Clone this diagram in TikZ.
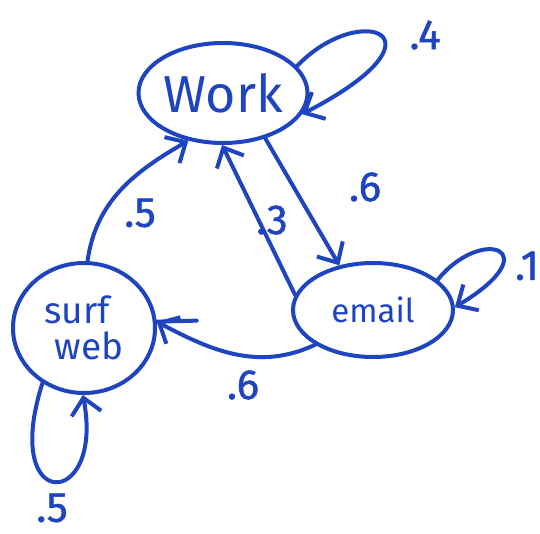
\documentclass[tikz,border=0pt]{standalone}
\usepackage{fontspec}
\setmainfont{Fira Sans}
\usetikzlibrary{shapes.geometric,arrows.meta}
\definecolor{ink}{HTML}{1E44C0}
\tikzset{
  state/.style={ellipse, draw=ink, line width=4pt, inner sep=0pt, text=ink},
  edge/.style={draw=ink, line width=4pt, line cap=round, -{Straight Barb[length=16pt,width=30pt,line width=4pt]}},
  plain/.style={draw=ink, line width=4pt, line cap=round},
  prob/.style={text=ink, font=\fontsize{42}{46}\selectfont\addfontfeature{FakeBold=1.2}, inner sep=0pt}
}
\begin{document}
\begin{tikzpicture}[x=1pt,y=-1pt]
\useasboundingbox (0,0) rectangle (540,533);
% states
\node[state, minimum width=162pt, minimum height=100pt, font=\fontsize{52}{56}\selectfont] (w) at (223,93) {Work};
\node[state, minimum width=160pt, minimum height=94pt, font=\fontsize{33}{36}\selectfont] (e) at (373,310) {email};
\node[state, minimum width=142pt, minimum height=130pt, align=left, font=\fontsize{37}{38}\selectfont] (s) at (84,328) {surf\\[-2pt]\hspace*{10pt}web};
% edges
\draw[edge] (w.-47) -- (e.127);
\draw[edge] (e.169) -- (w.-91);
\draw[edge] (s.87) to[out=82, in=210] (w.-126);
\draw[edge] (e.-149) to[out=205, in=-28] (s.5);
\draw[plain] (s.5) -- ++(40,-1);
% self loops
\draw[edge] (w.20) .. controls (360,0) and (455,35) .. (w.-15);
\draw[edge] (e.25) .. controls (482,225) and (550,250) .. (e.2);
\draw[edge] (s.-127) .. controls (0,515) and (105,510) .. (s.-91);
% probabilities
\node[prob] (p1) at (425,35) {.4};
\node[prob] (p2) at (365,187) {.6};
\node[prob] (p3) at (272,220) {.3};
\node[prob] (p4) at (140,213) {.5};
\node[prob] (p5) at (243,385) {.6};
\node[prob] (p6) at (527,266) {.1};
\node[prob] (p7) at (52,508) {.5};
\end{tikzpicture}
\end{document}
